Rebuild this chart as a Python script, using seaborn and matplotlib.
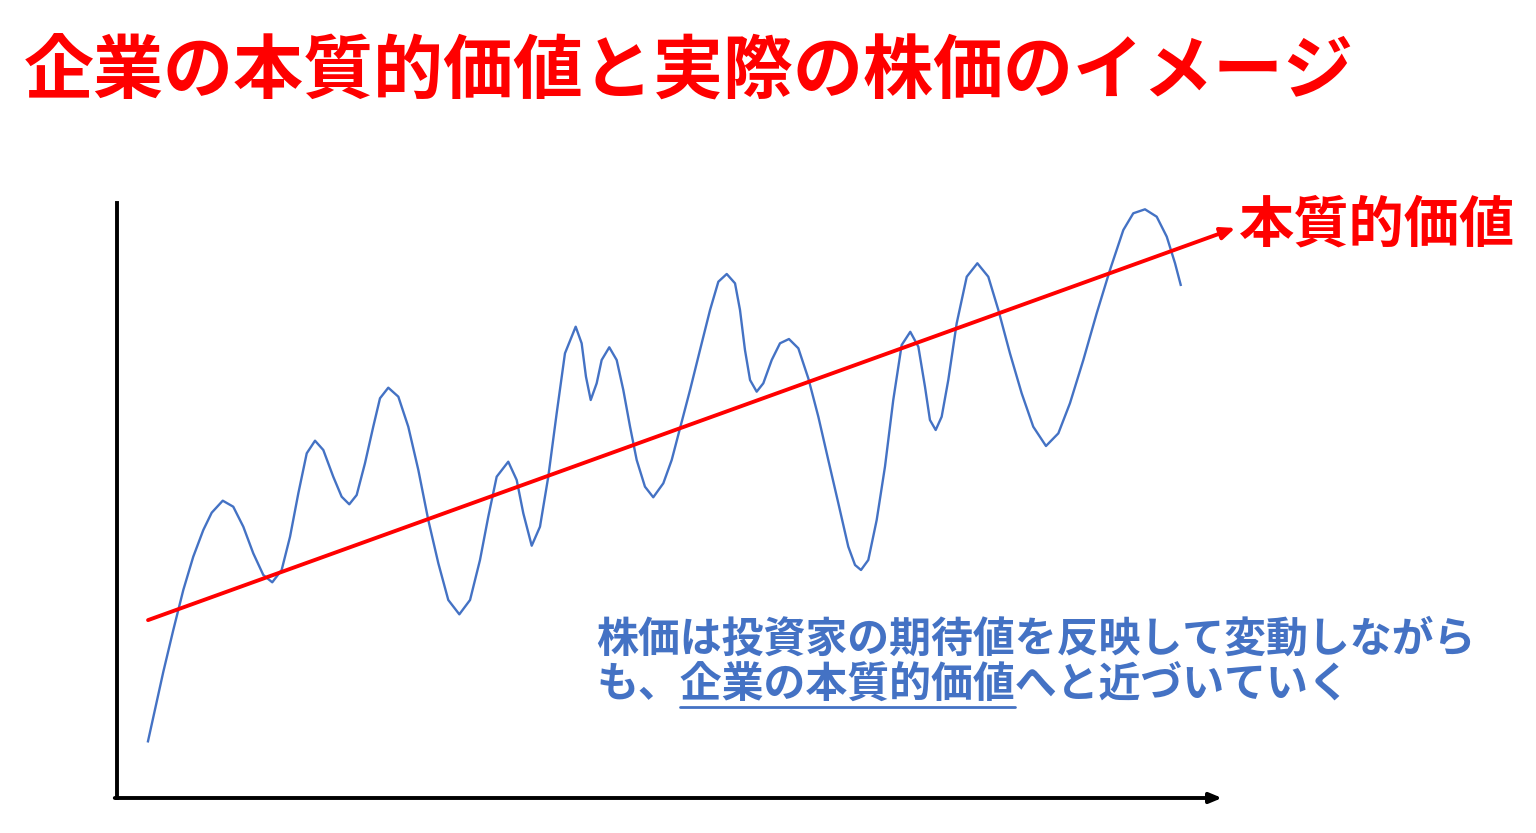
import matplotlib
matplotlib.use("Agg")
import matplotlib.pyplot as plt
import seaborn as sns
import pandas as pd
from matplotlib.lines import Line2D

# ---- data (arbitrary 0-100 units) ----
price_t = [2.78, 4.19, 5.09, 6.0, 6.9, 7.81, 8.57, 9.57, 10.52, 11.43,
           12.33, 13.24, 14.05, 14.9, 15.66, 16.41, 17.17, 17.92, 18.67, 19.57,
           20.33, 21.02, 21.69, 22.44, 23.19, 23.8, 24.55, 25.46, 26.36, 27.27,
           28.17, 29.08, 29.98, 30.98, 31.95, 32.85, 33.6, 34.36, 35.41, 36.17,
           36.77, 37.53, 38.28, 39.03, 39.79, 40.54, 41.51, 42.05, 42.44, 42.87,
           43.41, 43.86, 44.55, 45.22, 45.82, 46.43, 47.03, 47.78, 48.53, 49.44,
           50.2, 50.95, 51.86, 52.76, 53.67, 54.42, 55.18, 55.93, 56.38, 56.83,
           57.29, 57.89, 58.49, 59.25, 60.0, 60.81, 61.66, 62.56, 63.47, 64.37,
           65.28, 66.18, 66.79, 67.33, 67.99, 68.75, 69.5, 70.25, 71.01, 71.79,
           72.52, 73.12, 73.57, 74.09, 74.63, 75.23, 75.99, 76.9, 77.86, 78.85,
           79.76, 80.81, 81.87, 82.92, 84.07, 85.19, 86.24, 87.45, 88.66, 89.86,
           91.07, 91.97, 93.03, 94.09, 95.0, 95.75, 96.29]
price_v = [9.33, 21.2, 28.2, 34.96, 40.55, 45.04, 47.95, 49.97, 48.96, 45.6,
           41.13, 37.48, 36.25, 38.32, 43.92, 51.21, 57.93, 60.05, 58.49, 54.0,
           50.64, 49.36, 50.92, 56.25, 62.4, 67.18, 68.96, 67.45, 62.4, 55.13,
           46.72, 39.45, 33.28, 30.87, 33.28, 40.0, 47.28, 54.0, 56.52, 53.45,
           47.85, 42.4, 45.6, 54.0, 64.66, 74.74, 79.21, 76.42, 70.81, 66.89,
           69.7, 73.61, 75.75, 73.61, 68.57, 62.4, 56.81, 52.32, 50.54, 52.89,
           56.81, 62.13, 68.57, 75.29, 82.02, 86.77, 88.07, 86.5, 82.02, 75.29,
           70.25, 68.29, 69.7, 73.61, 76.42, 77.14, 75.58, 70.54, 64.08, 56.81,
           49.53, 42.24, 39.16, 38.32, 40.0, 46.72, 55.68, 66.89, 76.13, 78.35,
           75.85, 69.13, 63.53, 61.85, 64.08, 70.25, 79.78, 87.61, 89.87, 87.61,
           82.02, 74.74, 68.02, 62.4, 59.16, 61.29, 66.34, 73.61, 81.46, 88.74,
           95.46, 98.27, 98.94, 97.7, 94.34, 89.87, 86.05]

intrinsic_t = [2.81, 101.2]
intrinsic_v = [29.9, 95.8]

title_text = "企業の本質的価値と実際の株価のイメージ"
line_label = "本質的価値"
note_line1 = "株価は投資家の期待値を反映して変動しながら"
note_pre = "も、"
note_under = "企業の本質的価値"
note_post = "へと近づいていく"

RED = "#FF0000"
BLUE = "#4472C4"

sns.set_theme(style="white")
plt.rcParams["font.family"] = ["Noto Sans CJK JP", "DejaVu Sans"]

W, H = 1536, 833
fig = plt.figure(figsize=(W / 100, H / 100), dpi=100)
fig.patch.set_facecolor("white")

ax = fig.add_axes([117 / W, (H - 798) / H, 1105 / W, 595 / H])
ax.set_xlim(0, 100)
ax.set_ylim(0, 100)
ax.set_facecolor("none")

df = pd.DataFrame({"t": price_t, "v": price_v})
sns.lineplot(data=df, x="t", y="v", sort=False, color=BLUE, lw=1.7,
             ax=ax, clip_on=False, solid_joinstyle="round",
             solid_capstyle="butt")

# intrinsic value arrow
ax.annotate("", xy=(intrinsic_t[1], intrinsic_v[1]),
            xytext=(intrinsic_t[0], intrinsic_v[0]),
            xycoords="data", textcoords="data", annotation_clip=False,
            arrowprops=dict(arrowstyle="-|>,head_length=0.7,head_width=0.3",
                            color=RED, lw=2.8, shrinkA=0, shrinkB=0))

# axes
for s in ["top", "right", "bottom"]:
    ax.spines[s].set_visible(False)
ax.spines["left"].set_color("black")
ax.spines["left"].set_linewidth(2.8)
ax.spines["left"].set_capstyle("projecting")
ax.annotate("", xy=(1.0, 0.0), xytext=(-0.002, 0.0), xycoords="axes fraction",
            textcoords="axes fraction", annotation_clip=False,
            arrowprops=dict(arrowstyle="-|>,head_length=0.6,head_width=0.25",
                            color="black", lw=2.8, shrinkA=0, shrinkB=0))
ax.set_xticks([])
ax.set_yticks([])
ax.set_xlabel("")
ax.set_ylabel("")

# labels
fig.text(1239 / W, 1 - 226 / H, line_label, color=RED, fontsize=39.8,
         fontweight="bold", va="center", ha="left")
fig.text(24 / W, 1 - 73 / H, title_text, color=RED, fontsize=50.4,
         fontweight="bold", va="center", ha="left")

fs = 30.2
x0 = 596 / W
fig.text(x0, 1 - 640 / H, note_line1, color=BLUE, fontsize=fs,
         fontweight="bold", va="center", ha="left")
y2 = 1 - 686 / H
fig.text(x0, y2, note_pre + note_under + note_post, color=BLUE,
         fontsize=fs, fontweight="bold", va="center", ha="left")
fig.canvas.draw()
r = fig.canvas.get_renderer()
probe1 = fig.text(x0, y2, note_pre, fontsize=fs, fontweight="bold",
                  va="center", ha="left", alpha=0)
probe2 = fig.text(x0, y2, note_pre + note_under, fontsize=fs,
                  fontweight="bold", va="center", ha="left", alpha=0)
e1 = probe1.get_window_extent(r)
e2 = probe2.get_window_extent(r)
probe1.remove()
probe2.remove()
ux0 = e1.x1 / W
ux1 = e2.x1 / W
uy = 1 - 707 / H
fig.add_artist(Line2D([ux0, ux1], [uy, uy], transform=fig.transFigure,
                      color=BLUE, lw=2.0))

fig.savefig("out.png", dpi=100, facecolor="white")
